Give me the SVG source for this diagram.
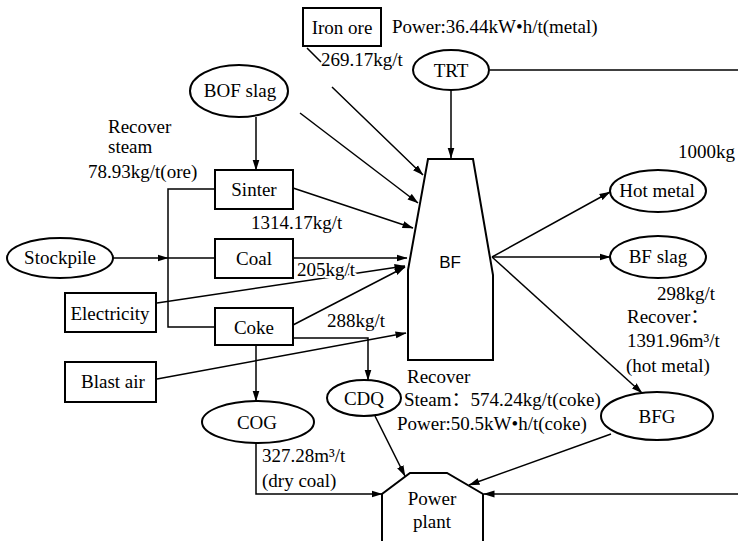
<svg xmlns="http://www.w3.org/2000/svg" width="738" height="541" viewBox="0 0 738 541">
  <style>
    .shape { fill: #fff; stroke: #000; stroke-width: 2; }
    .edge { fill: none; stroke: #000; stroke-width: 1.5; }
    .arrow { marker-end: url(#ah); }
    text { font-family: "Liberation Serif", "Times New Roman", serif; font-size: 19px; fill: #000; }
    .c { text-anchor: middle; }
    .cjk { font-family: "Liberation Serif", "Noto Sans CJK SC", serif; }
    .halo { stroke: #fff; stroke-width: 4; paint-order: stroke; stroke-linejoin: round; }
    .sans { font-family: "Liberation Sans", Arial, sans-serif; font-size: 17px; }
  </style>
  <defs>
    <marker id="ah" markerUnits="userSpaceOnUse" markerWidth="11" markerHeight="8" refX="10.5" refY="4" orient="auto">
      <path d="M0,0.5 L11,4 L0,7.5 Z" fill="#000"/>
    </marker>
  </defs>

  <rect width="738" height="541" fill="#fff"/>

  <!-- flow lines -->
  <g id="connectors">
    <path class="edge arrow" d="M307,48 L321,62 M332,87 L423,175"/>
    <path class="edge arrow" d="M451,90 L451,158"/>
    <path class="edge" d="M490,70 L738,70"/>
    <path class="edge arrow" d="M256,117 L256,170"/>
    <path class="edge arrow" d="M300,113 L418,203"/>
    <path class="edge arrow" d="M293,188 L413,228"/>
    <path class="edge" d="M215,189 L168,189 L168,327 L215,327"/>
    <path class="edge arrow" d="M113,258 L168,258"/>
    <path class="edge" d="M168,258 L215,258"/>
    <path class="edge arrow" d="M293,258 L407,258"/>
    <path class="edge arrow" d="M157,303 L405,266"/>
    <path class="edge arrow" d="M293,325 L405,267"/>
    <path class="edge arrow" d="M293,338 L368,338 L368,380"/>
    <path class="edge arrow" d="M157,379 L406,333"/>
    <path class="edge arrow" d="M256,345 L256,401"/>
    <path class="edge arrow" d="M256,443 L256,494 L382,494"/>
    <path class="edge arrow" d="M375,416 L405,476"/>
    <path class="edge arrow" d="M611,434 L469,485"/>
    <path class="edge arrow" d="M738,494 L484,494"/>
    <path class="edge arrow" d="M492,257 L610,192"/>
    <path class="edge arrow" d="M492,257 L610,257"/>
    <path class="edge arrow" d="M492,257 L642,393"/>
  </g>

  <!-- nodes -->
  <g id="iron-ore">
    <rect class="shape" x="303" y="8" width="78" height="38"/>
    <text class="c" x="342" y="34">Iron ore</text>
  </g>
  <g id="trt">
    <ellipse class="shape" cx="451" cy="70" rx="38" ry="20"/>
    <text class="c" x="451" y="77">TRT</text>
  </g>
  <g id="bof-slag">
    <ellipse class="shape" cx="239" cy="91" rx="49" ry="26"/>
    <text class="c" x="240" y="97">BOF slag</text>
  </g>
  <g id="sinter">
    <rect class="shape" x="215" y="170" width="78" height="39"/>
    <text class="c" x="254" y="196">Sinter</text>
  </g>
  <g id="coal">
    <rect class="shape" x="215" y="239" width="78" height="39"/>
    <text class="c" x="254" y="265">Coal</text>
  </g>
  <g id="coke">
    <rect class="shape" x="215" y="308" width="78" height="37"/>
    <text class="c" x="254" y="334">Coke</text>
  </g>
  <g id="stockpile">
    <ellipse class="shape" cx="60" cy="258" rx="53" ry="20"/>
    <text class="c" x="60" y="264">Stockpile</text>
  </g>
  <g id="electricity">
    <rect class="shape" x="65" y="293" width="91" height="39"/>
    <text class="c" x="110" y="320">Electricity</text>
  </g>
  <g id="blast-air">
    <rect class="shape" x="65" y="362" width="91" height="40"/>
    <text class="c" x="113" y="388">Blast air</text>
  </g>
  <g id="cog">
    <ellipse class="shape" cx="258" cy="422" rx="56" ry="21"/>
    <text class="c" x="257" y="429">COG</text>
  </g>
  <g id="cdq">
    <ellipse class="shape" cx="364" cy="398" rx="37" ry="18"/>
    <text class="c" x="364" y="405">CDQ</text>
  </g>
  <g id="bf">
    <path class="shape" d="M408,360 L408,270 L428,159 L473,159 L493,275 L493,360 Z"/>
    <text class="c sans" x="450" y="268">BF</text>
  </g>
  <g id="hot-metal">
    <ellipse class="shape" cx="658" cy="191" rx="48" ry="21"/>
    <text class="c" x="657" y="197">Hot metal</text>
  </g>
  <g id="bf-slag">
    <ellipse class="shape" cx="658" cy="257" rx="48" ry="21"/>
    <text class="c" x="658" y="263">BF slag</text>
  </g>
  <g id="bfg">
    <ellipse class="shape" cx="657" cy="416" rx="56" ry="24"/>
    <text class="c" x="657" y="423">BFG</text>
  </g>
  <g id="power-plant">
    <path class="shape" d="M382,545 L382,494 L410,473 L447,473 L483,494 L483,545"/>
    <text class="c" x="432" y="505">Power</text>
    <text class="c" x="432" y="528">plant</text>
  </g>

  <!-- flow quantities -->
  <g id="labels">
    <text x="392" y="33">Power:36.44kW•h/t(metal)</text>
    <text x="321" y="66">269.17kg/t</text>
    <text x="108" y="133">Recover</text>
    <text x="108" y="153">steam</text>
    <text x="88" y="178">78.93kg/t(ore)</text>
    <text x="251" y="229">1314.17kg/t</text>
    <text class="halo" x="297" y="276">205kg/t</text>
    <text x="327" y="327">288kg/t</text>
    <text x="678" y="158">1000kg</text>
    <text x="657" y="300">298kg/t</text>
    <text class="cjk" x="627" y="323">Recover：</text>
    <text x="627" y="347">1391.96m³/t</text>
    <text x="626" y="372">(hot metal)</text>
    <text x="407" y="383">Recover</text>
    <text class="cjk" x="404" y="406">Steam：574.24kg/t(coke)</text>
    <text x="397" y="430">Power:50.5kW•h/t(coke)</text>
    <text x="262" y="462">327.28m³/t</text>
    <text x="262" y="487">(dry coal)</text>
  </g>
</svg>
